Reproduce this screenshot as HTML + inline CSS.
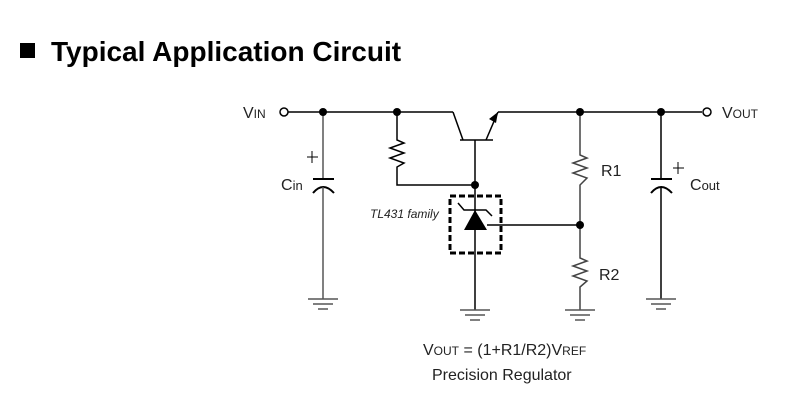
<!DOCTYPE html>
<html><head><meta charset="utf-8"><style>
html,body{margin:0;padding:0;background:#fff;width:786px;height:411px;overflow:hidden}
svg{display:block}
</style></head><body>
<svg width="786" height="411" viewBox="0 0 786 411" xmlns="http://www.w3.org/2000/svg" font-family="Liberation Sans, Arial, sans-serif">
<rect x="20" y="43" width="15" height="15" fill="#000"/>
<text x="51" y="61" font-size="28" font-weight="bold" fill="#000">Typical Application Circuit</text>
<g stroke="#000" stroke-width="1.5" fill="none">
<line x1="288" y1="112" x2="453" y2="112"/>
<line x1="498" y1="112" x2="702" y2="112"/>
<circle cx="284" cy="112" r="4" fill="#fff"/>
<circle cx="707" cy="112" r="4" fill="#fff"/>
<line x1="453" y1="112" x2="463" y2="140"/>
<line x1="460" y1="140" x2="493" y2="140"/>
<line x1="486" y1="140" x2="498" y2="112"/>
<line x1="475" y1="140" x2="475" y2="310"/>
<polyline points="397,112 397,140 404,143 390,148 404,153 390,158 404,163 397,167 397,185 475,185"/>
<line x1="323" y1="112" x2="323" y2="179" stroke="#555"/>
<line x1="313" y1="179" x2="334" y2="179" stroke-width="2"/>
<path d="M313 193 Q323 181 334 193" stroke-width="2"/>
<line x1="323" y1="187" x2="323" y2="299" stroke="#555"/>
<line x1="307" y1="157" x2="318" y2="157" stroke-width="1"/><line x1="312" y1="151" x2="312" y2="163" stroke-width="1"/>
<line x1="661" y1="112" x2="661" y2="179"/>
<line x1="651" y1="179" x2="672" y2="179" stroke-width="2"/>
<path d="M651 193 Q661 181 672 193" stroke-width="2"/>
<line x1="661" y1="187" x2="661" y2="299"/>
<line x1="673" y1="168" x2="684" y2="168" stroke-width="1"/><line x1="678" y1="162" x2="678" y2="174" stroke-width="1"/>
<polyline points="580,112 580,155 587,158 573,163 587,168 573,173 587,178 580,185 580,258 587,261 573,266 587,271 573,276 587,281 580,287 580,310" stroke="#444"/>
<line x1="487" y1="225" x2="580" y2="225"/>
<rect x="450" y="196" width="51" height="57" stroke-width="3" stroke-dasharray="6,3"/>
<polyline points="458,203 464,210 486,210 492,216"/>
<g stroke="#555">
<line x1="308" y1="299" x2="338" y2="299"/><line x1="313" y1="304" x2="333" y2="304"/><line x1="318" y1="309" x2="328" y2="309"/>
<line x1="460" y1="310" x2="490" y2="310"/><line x1="465" y1="315" x2="485" y2="315"/><line x1="470" y1="320" x2="480" y2="320"/>
<line x1="565" y1="310" x2="595" y2="310"/><line x1="570" y1="315" x2="590" y2="315"/><line x1="575" y1="320" x2="585" y2="320"/>
<line x1="646" y1="299" x2="676" y2="299"/><line x1="651" y1="304" x2="671" y2="304"/><line x1="656" y1="309" x2="666" y2="309"/>
</g>
</g>
<polygon points="475,210 464,230 487,230" fill="#000"/>
<polygon points="498,112 489,119 496,123" fill="#000"/>
<g fill="#000">
<circle cx="323" cy="112" r="4"/><circle cx="397" cy="112" r="4"/><circle cx="580" cy="112" r="4"/><circle cx="661" cy="112" r="4"/>
<circle cx="475" cy="185" r="4"/><circle cx="580" cy="225" r="4"/>
</g>
<g fill="#222" font-size="16">
<text x="243" y="118">V<tspan font-size="12">IN</tspan></text>
<text x="722" y="118">V<tspan font-size="12">OUT</tspan></text>
<text x="281" y="190">C<tspan font-size="13">in</tspan></text>
<text x="690" y="190">C<tspan font-size="13">out</tspan></text>
<text x="601" y="176">R1</text>
<text x="599" y="280">R2</text>
<text x="370" y="218" font-size="12" font-style="italic">TL431 family</text>
<text x="423" y="355">V<tspan font-size="12">OUT</tspan> = (1+R1/R2)V<tspan font-size="12">REF</tspan></text>
<text x="432" y="380">Precision Regulator</text>
</g>
</svg>
</body></html>
